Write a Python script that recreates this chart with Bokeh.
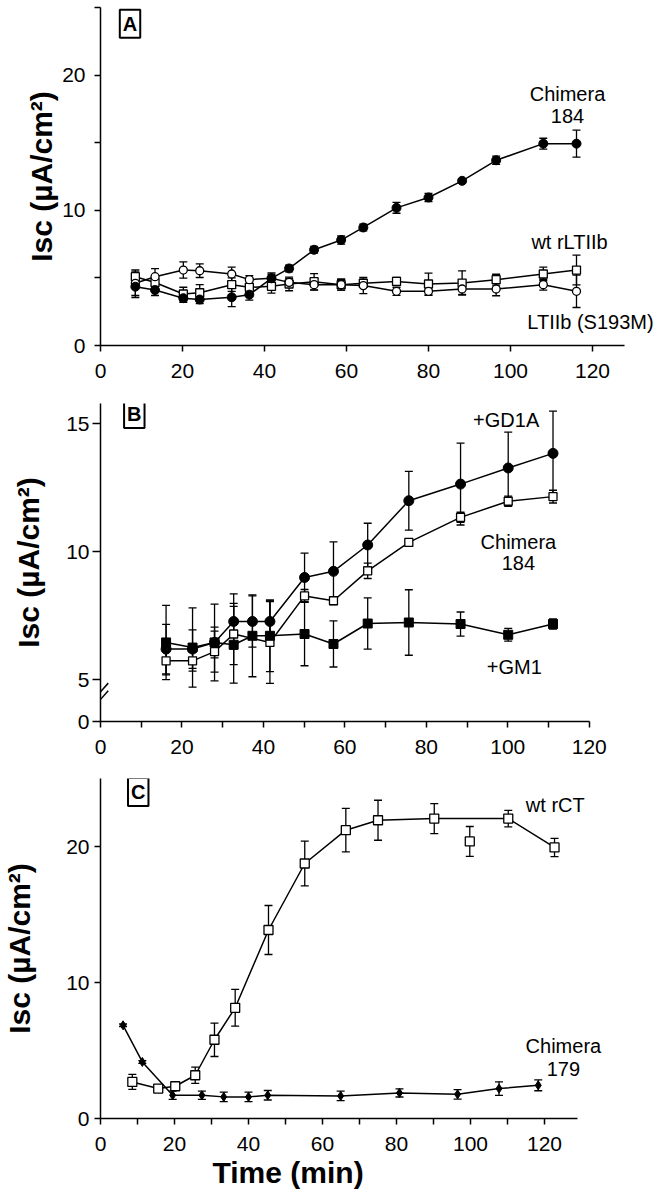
from bokeh.plotting import figure
from bokeh.models import ColumnDataSource, Whisker, TeeHead, Label, FixedTicker, Arrow
from bokeh.layouts import column
from bokeh.embed import file_html
from bokeh.resources import INLINE

FONT = "Liberation Sans"

# ---------------- Panel A data ----------------
a_time = [8.5, 13.3, 20.2, 24.2, 32.0, 36.3, 41.7, 46.0, 52.1, 58.7, 64.1, 72.2, 80.0, 88.2, 96.5, 108.0, 116.1]
a_chim184 = [4.35, 4.1, 3.5, 3.4, 3.57, 3.76, 4.97, 5.7, 7.08, 7.8, 8.73, 10.18, 10.95, 12.18, 13.7, 14.93, 14.93]
a_chim184_err = [0.8, 0.4, 0.3, 0.3, 0.7, 0.4, 0.3, 0.25, 0.25, 0.3, 0.25, 0.4, 0.3, 0.15, 0.3, 0.4, 1.0]
a_wt = [5.09, 4.66, 3.81, 3.9, 4.5, 4.3, 4.38, 4.55, 4.72, 4.5, 4.6, 4.74, 4.55, 4.62, 4.87, 5.29, 5.58]
a_wt_err = [0.5, 0.5, 0.5, 0.6, 0.5, 0.3, 0.5, 0.5, 0.6, 0.4, 0.3, 0.3, 0.8, 0.9, 0.4, 0.5, 1.1]
a_s193m = [4.6, 5.09, 5.58, 5.53, 5.29, 4.87, 4.97, 4.67, 4.5, 4.5, 4.43, 4.01, 4.01, 4.18, 4.18, 4.5, 4.01]
a_s193m_err = [0.9, 0.6, 0.6, 0.5, 0.5, 0.3, 0.4, 0.3, 0.4, 0.4, 0.6, 0.3, 0.3, 0.4, 0.5, 0.4, 1.2]

# ---------------- Panel B data ----------------
b_time = [16.1, 22.6, 28.0, 32.7, 37.3, 41.6, 50.1, 57.2, 65.6, 75.7, 88.4, 100.1, 111.1]
b_gd1a = [6.2, 6.2, 6.46, 7.28, 7.28, 7.28, 9.0, 9.24, 10.27, 12.0, 12.65, 13.28, 13.85]
b_gd1a_err = [0.97, 0.75, 0.6, 1.08, 1.0, 0.8, 0.95, 1.15, 0.85, 1.15, 1.6, 1.4, 1.65]
b_gm1 = [6.46, 6.26, 6.46, 6.37, 6.72, 6.72, 6.79, 6.4, 7.2, 7.24, 7.18, 6.76, 7.18]
b_gm1_err = [1.45, 1.55, 1.5, 1.5, 1.6, 1.4, 1.24, 0.9, 1.0, 1.28, 0.47, 0.25, 0.2]
b_chim_time = [16.1, 22.6, 28.0, 32.7, 41.6, 50.1, 57.2, 65.6, 75.7, 88.4, 100.1, 111.1]
b_chim184 = [5.74, 5.74, 6.1, 6.79, 6.46, 8.28, 8.09, 9.26, 10.37, 11.35, 11.98, 12.16]
b_chim184_err = [0.55, 0.4, 0.8, 1.2, 1.6, 0.25, 0.15, 0.3, 0.15, 0.2, 0.2, 0.25]

# ---------------- Panel C data ----------------
c_wt_time = [8.6, 15.6, 20.2, 25.6, 30.8, 36.4, 45.4, 55.2, 66.3, 75.0, 90.2, 99.8, 110.2, 122.7]
c_wt = [2.69, 2.2, 2.37, 3.18, 5.79, 8.14, 13.86, 18.75, 21.2, 21.93, 22.05, 20.37, 22.05, 19.93]
c_wt_err = [0.55, 0.2, 0.2, 0.6, 1.23, 1.35, 1.8, 1.65, 1.6, 1.47, 1.1, 1.1, 0.6, 0.67]
c_wt_on_line = [True, True, True, True, True, True, True, True, True, True, True, False, True, True]
c_chim_time = [6.1, 11.3, 19.5, 27.4, 33.3, 40.0, 45.2, 64.9, 80.8, 96.5, 107.7, 118.3]
c_chim179 = [6.85, 4.16, 1.71, 1.71, 1.59, 1.59, 1.71, 1.66, 1.88, 1.78, 2.2, 2.44]
c_chim179_err = [0.1, 0.1, 0.3, 0.3, 0.35, 0.35, 0.35, 0.35, 0.3, 0.35, 0.5, 0.4]

x_major = [0, 20, 40, 60, 80, 100, 120]
x_minor = [10, 30, 50, 70, 90, 110]
Y_LABEL = "Isc (\u00b5A/cm\u00b2)"


def make_fig(width, height, xr, yr, left, right, top, bottom):
    p = figure(width=width, height=height, x_range=xr, y_range=yr,
               output_backend="svg", toolbar_location=None,
               min_border_left=left, min_border_right=right,
               min_border_top=top, min_border_bottom=bottom)
    p.outline_line_color = None
    p.grid.visible = False
    for ax in (p.xaxis[0], p.yaxis[0]):
        ax.axis_line_width = 1.5
        ax.axis_line_color = "black"
        ax.major_tick_line_width = 1.5
        ax.minor_tick_line_width = 1.5
        ax.major_tick_line_color = "black"
        ax.minor_tick_line_color = "black"
        ax.major_tick_in = 0
        ax.major_tick_out = 6
        ax.minor_tick_in = 0
        ax.minor_tick_out = 6
        ax.major_label_text_font = FONT
        ax.major_label_text_font_size = "21px"
        ax.major_label_text_color = "black"
        ax.axis_label_text_font = FONT
        ax.axis_label_text_font_style = "bold"
        ax.axis_label_text_font_size = "30px"
        ax.axis_label_text_color = "black"
    p.xaxis.major_label_standoff = 12
    p.yaxis.axis_label = Y_LABEL
    return p


def whisker(p, xs, ys, errs):
    src = ColumnDataSource(dict(x=xs, lower=[y - e for y, e in zip(ys, errs)],
                                upper=[y + e for y, e in zip(ys, errs)]))
    w = Whisker(source=src, base="x", lower="lower", upper="upper", dimension="height",
                line_color="black", line_width=1.3,
                upper_head=TeeHead(size=8, line_color="black", line_width=1.3),
                lower_head=TeeHead(size=8, line_color="black", line_width=1.3))
    p.add_layout(w)


def note(p, x, y, text, size="20px"):
    lab = Label(x=x, y=y, text=text, text_font=FONT, text_font_size=size,
                text_align="center", text_baseline="middle", text_color="black")
    p.add_layout(lab)


def panel_box(p, x, y, letter):
    lab = Label(x=x, y=y, text=letter, text_font=FONT, text_font_size="20px",
                text_font_style="bold", text_align="center", text_baseline="middle",
                text_color="black", border_line_color="black", border_line_width=2,
                background_fill_color="white", padding=3)
    p.add_layout(lab)


# ================= Panel A =================
pA = make_fig(658, 385, (0, 136.1), (0, 25), 99, 0, 7, 40)
pA.xaxis.bounds = (0, 127.7)
pA.xaxis.ticker = FixedTicker(ticks=x_major)
pA.yaxis.ticker = FixedTicker(ticks=[0, 10, 20], minor_ticks=[5, 15, 25])
pA.yaxis.major_label_standoff = 9
pA.yaxis.axis_label_standoff = 1

whisker(pA, a_time, a_wt, a_wt_err)
whisker(pA, a_time, a_s193m, a_s193m_err)
whisker(pA, a_time, a_chim184, a_chim184_err)
pA.line(a_time, a_wt, line_color="black", line_width=1.5)
pA.line(a_time, a_s193m, line_color="black", line_width=1.5)
pA.line(a_time, a_chim184, line_color="black", line_width=1.5)
pA.scatter(a_time, a_wt, marker="square", size=8, fill_color="white", line_color="black", line_width=1.3)
pA.scatter(a_time, a_s193m, marker="circle", size=8, fill_color="white", line_color="black", line_width=1.3)
pA.scatter(a_time, a_chim184, marker="circle", size=9, fill_color="black", line_color="black")

note(pA, 113.9, 18.6, "Chimera")
note(pA, 113.9, 17.0, "184")
note(pA, 114.4, 7.62, "wt rLTIIb")
note(pA, 119.5, 1.72, "LTIIb (S193M)")
panel_box(pA, 7.2, 23.8, "A")

# ================= Panel B =================
b_axis_bottom = 3.37
pB = make_fig(658, 385, (0, 137.0), (b_axis_bottom, 15.8), 93, 0, 18, 49)
pB.xaxis.bounds = (0, 120)
pB.xaxis.ticker = FixedTicker(ticks=x_major, minor_ticks=x_minor)
pB.yaxis.ticker = FixedTicker(ticks=[b_axis_bottom, 5, 10, 15])
pB.yaxis.major_label_overrides = {b_axis_bottom: "0"}
pB.yaxis.major_tick_out = 8
pB.yaxis.major_label_standoff = 3
pB.yaxis.axis_label_standoff = 18

whisker(pB, b_time, b_gm1, b_gm1_err)
whisker(pB, b_time, b_gd1a, b_gd1a_err)
whisker(pB, b_chim_time, b_chim184, b_chim184_err)
pB.line(b_time, b_gm1, line_color="black", line_width=1.5)
pB.line(b_chim_time, b_chim184, line_color="black", line_width=1.5)
pB.line(b_time, b_gd1a, line_color="black", line_width=1.5)
pB.scatter(b_chim_time, b_chim184, marker="square", size=8, fill_color="white", line_color="black", line_width=1.3)
pB.scatter(b_time, b_gm1, marker="square", size=9, fill_color="black", line_color="black")
pB.scatter(b_time, b_gd1a, marker="circle", size=10, fill_color="black", line_color="black")

note(pB, 99.6, 15.16, "+GD1A")
note(pB, 102.6, 10.4, "Chimera")
note(pB, 102.6, 9.55, "184")
note(pB, 101.6, 5.51, "+GM1")
panel_box(pB, 8.3, 15.39, "B")

# axis break marks (drawn across the y axis)
for yc in (4.47, 4.17):
    pB.add_layout(Arrow(end=None, x_start=-2.6, y_start=yc - 0.4, x_end=1.9, y_end=yc + 0.4,
                        line_color="black", line_width=1.5))

# ================= Panel C =================
pC = make_fig(658, 426, (0, 150.8), (0, 25), 88, 0, 8, 78)
pC.xaxis.bounds = (0, 129)
pC.xaxis.ticker = FixedTicker(ticks=x_major, minor_ticks=x_minor)
pC.yaxis.ticker = FixedTicker(ticks=[0, 10, 20])
pC.yaxis.major_label_standoff = 5
pC.yaxis.axis_label_standoff = 27

whisker(pC, c_wt_time, c_wt, c_wt_err)
whisker(pC, c_chim_time, c_chim179, c_chim179_err)
line_t = [t for t, on in zip(c_wt_time, c_wt_on_line) if on]
line_v = [v for v, on in zip(c_wt, c_wt_on_line) if on]
pC.line(line_t, line_v, line_color="black", line_width=1.5)
pC.line(c_chim_time, c_chim179, line_color="black", line_width=1.5)
pC.scatter(c_chim_time, c_chim179, marker="diamond", size=9, fill_color="black", line_color="black")
pC.scatter(c_wt_time, c_wt, marker="square", size=9, fill_color="white", line_color="black", line_width=1.3)

note(pC, 122.9, 23.06, "wt rCT")
note(pC, 125.1, 5.3, "Chimera")
note(pC, 125.1, 3.67, "179")
panel_box(pC, 10.2, 24.0, "C")

pC.title.text = "Time (min)"
pC.title_location = "below"
pC.title.align = "left"
pC.title.offset = 112
pC.title.standoff = 0
pC.title.text_font = FONT
pC.title.text_font_size = "30px"
pC.title.text_font_style = "bold"
pC.title.text_color = "black"

layout = column(pA, pB, pC)
open("out.html", "w").write(file_html(layout, INLINE))
